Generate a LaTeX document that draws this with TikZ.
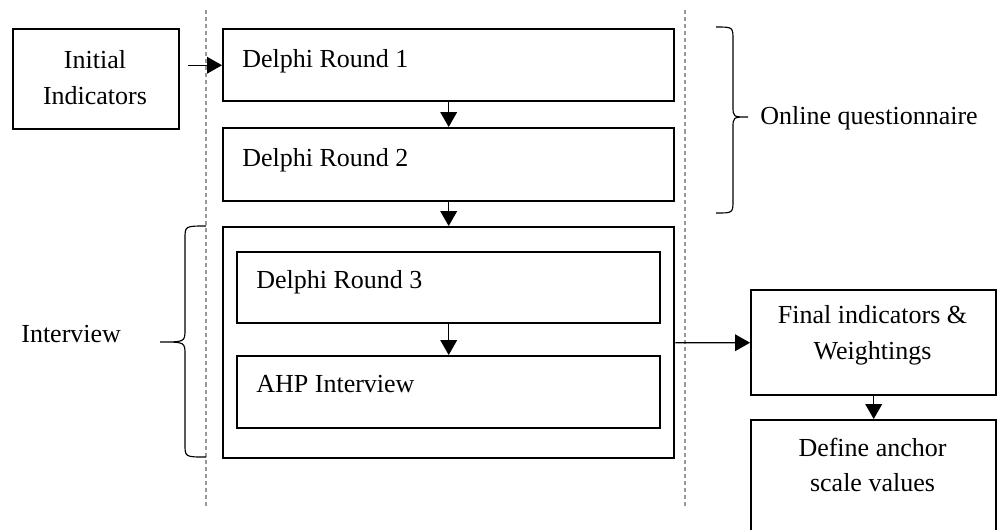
\documentclass[tikz,border=0pt]{standalone}
\usepackage{fontspec}
\setmainfont{Liberation Serif}
\usetikzlibrary{arrows.meta,calc}
\begin{document}
\begin{tikzpicture}[x=0.02cm,y=-0.02cm,
  box/.style={draw, line width=1.4pt, inner sep=0pt, anchor=north west},
  lbl/.style={font=\fontsize{14.8}{20.4}\selectfont, inner sep=0pt},
  arr/.style={-{Triangle[length=8.5pt,width=9.5pt]}, line width=0.65pt},
  guide/.style={draw=black!40, line width=0.65pt, dash pattern=on 2.3pt off 1.7pt},
  brc/.style={line width=0.65pt}]
\useasboundingbox (0,0) rectangle (1000,529);

% phase separators
\coordinate (gL1) at (206,10);  \coordinate (gL2) at (206,508);
\coordinate (gR1) at (685,10);  \coordinate (gR2) at (685,508);
\draw[guide] (gL1) -- (gL2);
\draw[guide] (gR1) -- (gR2);

% boxes
\node[box, minimum width=3.32cm, minimum height=2cm] (init) at (12,28) {};
\node[box, minimum width=9.02cm, minimum height=1.44cm] (d1) at (222,28) {};
\node[box, minimum width=9.02cm, minimum height=1.46cm] (d2) at (222,127) {};
\node[box, minimum width=9.02cm, minimum height=4.62cm] (outer) at (222,226) {};
\node[box, minimum width=8.46cm, minimum height=1.42cm] (d3) at (236,251) {};
\node[box, minimum width=8.46cm, minimum height=1.44cm] (ahp) at (236,355) {};
\node[box, minimum width=4.9cm, minimum height=2.1cm] (final) at (750,289) {};
\node[box, minimum width=4.9cm, minimum height=2.26cm] (anchor) at (750,419) {};

% box texts
\node[lbl, align=center] (initT) at (95,78) {Initial\\Indicators};
\node[lbl, anchor=base west] (d1T) at (242,67) {Delphi Round 1};
\node[lbl, anchor=base west] (d2T) at (242,166) {Delphi Round 2};
\node[lbl, anchor=base west] (d3T) at (256,288) {Delphi Round 3};
\node[lbl, anchor=base west] (ahpT) at (256,392) {AHP Interview};
\node[lbl, align=center] (finalT) at (872.5,335) {Final indicators \&\\Weightings};
\node[lbl, align=center] (anchorT) at (872.5,465) {Define anchor\\scale values};

% connectors
\draw[arr] ($(init.east |- d1.west)+(8,0)$) -- (d1.west);
\draw[arr] (d1.south) -- (d2.north);
\draw[arr] (d2.south) -- (outer.north);
\draw[arr] (d3.south) -- (ahp.north);
\draw[arr] (outer.east) -- (final.west);
\draw[arr] (final.south) -- (anchor.north);

% brace for the two online rounds
\coordinate (oqTop) at (716,27); \coordinate (oqTip) at (748,117); \coordinate (oqBot) at (716,213);
\draw[brc] (oqTop) .. controls (733,27) .. (733,40) -- (733,106)
  .. controls (733,117) .. (oqTip)
  .. controls (733,117) .. (733,128) -- (733,200)
  .. controls (733,213) .. (oqBot);
\node[lbl, anchor=base west] (oqT) at (760,124) {Online questionnaire};

% brace for the interview stage
\coordinate (ivTop) at (206,226); \coordinate (ivTip) at (160,342); \coordinate (ivBot) at (206,457);
\draw[brc] (ivTop) .. controls (185,226) .. (185,239) -- (185,329)
  .. controls (185,342) .. (ivTip)
  .. controls (185,342) .. (185,355) -- (185,444)
  .. controls (185,457) .. (ivBot);
\node[lbl, anchor=base west] (ivT) at (21,342) {Interview};
\end{tikzpicture}
\end{document}
